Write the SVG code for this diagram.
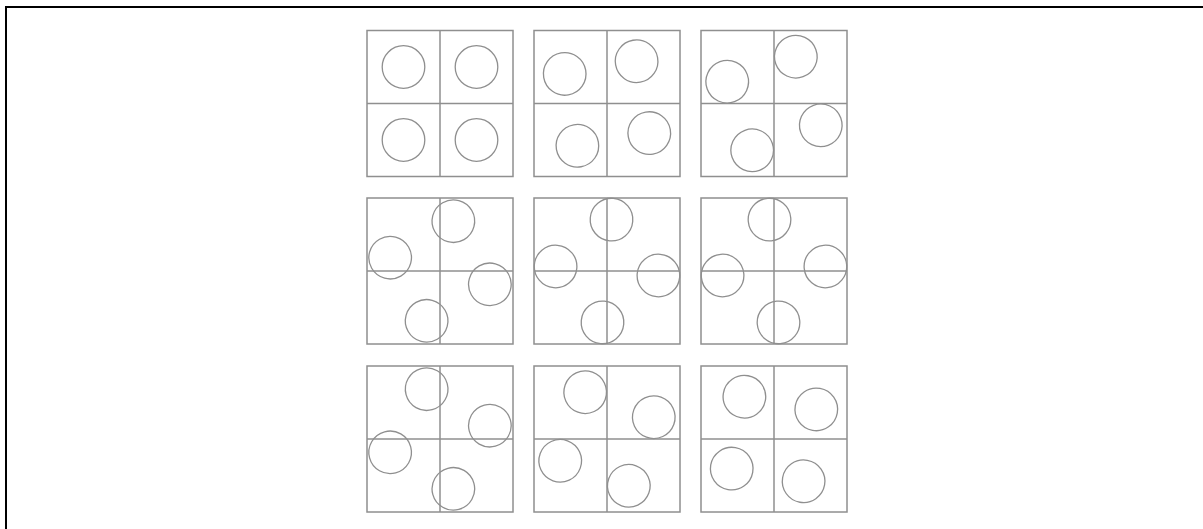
<svg xmlns="http://www.w3.org/2000/svg" width="1203" height="529" viewBox="0 0 1203 529">
<defs>
<style>
.box{fill:none;stroke:#8f8f8f;stroke-width:1.5}
.div{fill:none;stroke:#8f8f8f;stroke-width:1.5}
.c{fill:none;stroke:#8f8f8f;stroke-width:1.3}
.frame{fill:none;stroke:#000;stroke-width:2}
</style>
<g id="balls">
<circle class="c" cx="-36.5" cy="-36.5" r="21.3"/>
<circle class="c" cx="36.5" cy="-36.5" r="21.3"/>
<circle class="c" cx="-36.5" cy="36.5" r="21.3"/>
<circle class="c" cx="36.5" cy="36.5" r="21.3"/>
</g>
<g id="frameBox">
<rect class="box" x="-73" y="-73" width="146" height="146"/>
<line class="div" x1="0" y1="-73" x2="0" y2="73"/>
<line class="div" x1="-73" y1="0" x2="73" y2="0"/>
</g>
</defs>
<rect width="1203" height="529" fill="#fff"/>
<path class="frame" d="M6,529 V7 H1203"/>
<g id="panel1" transform="translate(440,103.5)"><use href="#frameBox"/><use href="#balls"/></g>
<g id="panel2" transform="translate(607,103.5)"><use href="#frameBox"/><use href="#balls" transform="rotate(-10)"/></g>
<g id="panel3" transform="translate(774,103.5)"><use href="#frameBox"/><use href="#balls" transform="rotate(-20)"/></g>
<g id="panel4" transform="translate(440,271)"><use href="#frameBox"/><use href="#balls" transform="rotate(-30)"/></g>
<g id="panel5" transform="translate(607,271)"><use href="#frameBox"/><use href="#balls" transform="rotate(-40)"/></g>
<g id="panel6" transform="translate(774,271)"><use href="#frameBox"/><use href="#balls" transform="rotate(-50)"/></g>
<g id="panel7" transform="translate(440,439)"><use href="#frameBox"/><use href="#balls" transform="rotate(-60)"/></g>
<g id="panel8" transform="translate(607,439)"><use href="#frameBox"/><use href="#balls" transform="rotate(-70)"/></g>
<g id="panel9" transform="translate(774,439)"><use href="#frameBox"/><use href="#balls" transform="rotate(-80)"/></g>
<g id="connectors"></g>
</svg>
